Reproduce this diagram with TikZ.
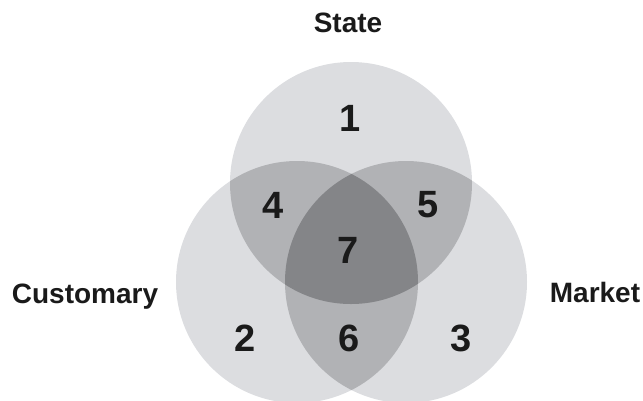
\documentclass[tikz,border=0pt]{standalone}
\usepackage{fontspec}
\setmainfont{Liberation Sans}
\definecolor{one}{HTML}{DCDDE0}
\definecolor{two}{HTML}{B1B2B5}
\definecolor{three}{HTML}{848588}
\definecolor{ink}{HTML}{1A1A1A}
\begin{document}
\begin{tikzpicture}[x=1pt,y=-1pt,
  lbl/.style={font=\fontsize{28}{30}\selectfont\bfseries, text=ink, inner sep=0pt},
  num/.style={font=\fontsize{38}{40}\selectfont\bfseries, text=ink, inner sep=0pt}]
\useasboundingbox (0,0) rectangle (643,400);
\def\R{121}
\coordinate (ct) at (351,183);
\coordinate (cl) at (297,282);
\coordinate (cr) at (406,282);
% single
\fill[one] (ct) circle[radius=\R];
\fill[one] (cl) circle[radius=\R];
\fill[one] (cr) circle[radius=\R];
% doubles
\begin{scope}\clip (ct) circle[radius=\R]; \fill[two] (cl) circle[radius=\R]; \fill[two] (cr) circle[radius=\R];\end{scope}
\begin{scope}\clip (cl) circle[radius=\R]; \fill[two] (cr) circle[radius=\R];\end{scope}
% triple
\begin{scope}\clip (ct) circle[radius=\R]; \clip (cl) circle[radius=\R]; \fill[three] (cr) circle[radius=\R];\end{scope}
% labels
\node[lbl, anchor=base] (state) at (348,32) {State};
\node[lbl, anchor=base] (cust) at (85,303) {Customary};
\node[lbl, anchor=base] (market) at (595,302) {Market};
\node[num] (n1) at (350,118) {1};
\node[num] (n4) at (273,205) {4};
\node[num] (n5) at (428,205) {5};
\node[num] (n7) at (348,250) {7};
\node[num] (n2) at (245,338) {2};
\node[num] (n6) at (349,338) {6};
\node[num] (n3) at (461,338) {3};
\end{tikzpicture}
\end{document}
